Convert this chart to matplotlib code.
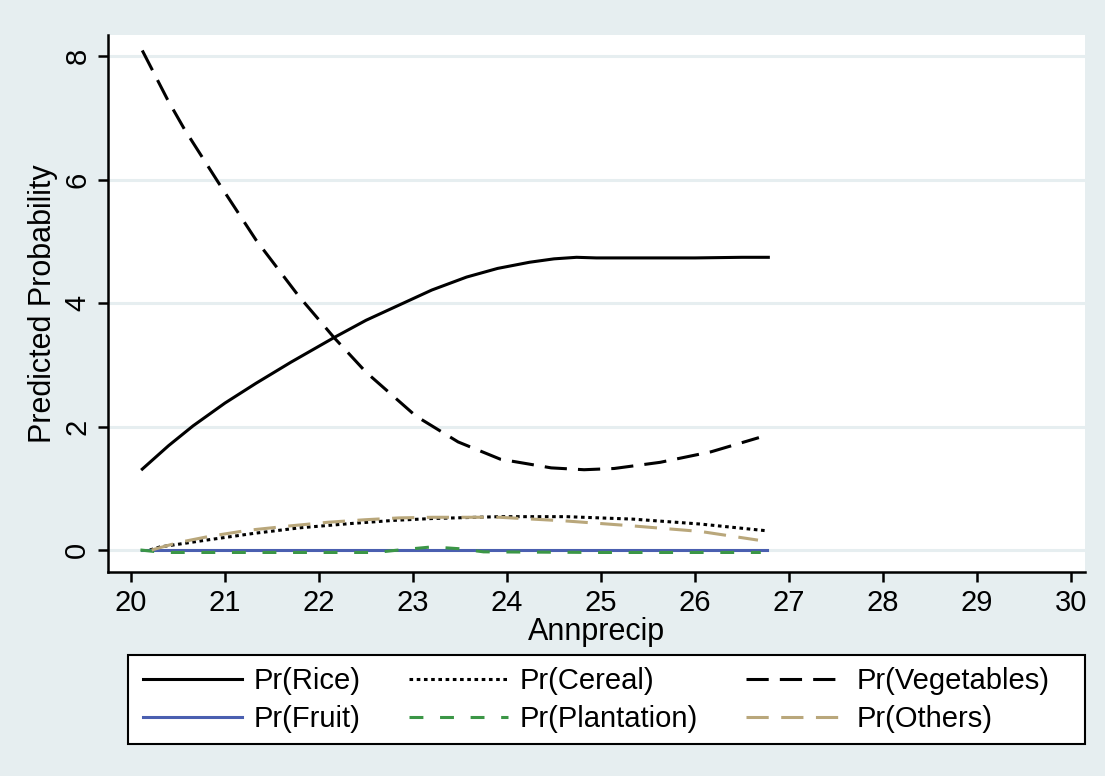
import matplotlib
matplotlib.use("Agg")
import matplotlib.pyplot as plt
from matplotlib.patches import Rectangle

# ---- data ----
x_rice = [20.12, 20.4, 20.66, 21.0, 21.33, 21.7, 22.16, 22.5, 22.9, 23.2, 23.57, 23.9, 24.24, 24.5, 24.74, 24.95, 25.5, 26.0, 26.5, 26.78]
y_rice = [1.31, 1.69, 2.01, 2.38, 2.70, 3.04, 3.44, 3.72, 4.00, 4.21, 4.42, 4.56, 4.66, 4.715, 4.74, 4.73, 4.73, 4.73, 4.74, 4.74]

x_veg = [20.12, 20.39, 20.57, 20.93, 21.33, 21.78, 22.16, 22.5, 23.03, 23.48, 23.93, 24.24, 24.47, 24.82, 25.14, 25.63, 26.17, 26.68]
y_veg = [8.09, 7.29, 6.81, 5.95, 5.02, 4.12, 3.44, 2.88, 2.17, 1.75, 1.47, 1.39, 1.33, 1.30, 1.32, 1.42, 1.59, 1.82]

x_cereal = [20.2, 20.31, 20.8, 21.31, 21.8, 22.35, 22.8, 23.21, 23.92, 24.63, 25.34, 26.06, 26.77]
y_cereal = [0.00, 0.05, 0.16, 0.27, 0.36, 0.43, 0.48, 0.51, 0.54, 0.54, 0.50, 0.42, 0.31]

x_fruit = [20.12, 26.77]
y_fruit = [0.0, 0.0]

x_plant = [20.1, 20.35, 21.5, 22.6, 22.85, 23.2, 23.5, 23.75, 25.0, 26.7]
y_plant = [0.00, -0.04, -0.04, -0.04, 0.00, 0.05, 0.02, -0.03, -0.04, -0.04]

x_others = [20.22, 20.5, 20.83, 21.25, 21.69, 22.1, 22.49, 22.85, 23.21, 23.92, 24.63, 25.34, 26.06, 26.67]
y_others = [0.00, 0.12, 0.22, 0.32, 0.39, 0.45, 0.49, 0.52, 0.53, 0.53, 0.47, 0.39, 0.30, 0.16]

x_ticks = list(range(20, 31))
y_ticks = [0, 2, 4, 6, 8]

# ---- style ----
BG = "#e6eef0"
plt.rcParams["font.family"] = ["Liberation Sans", "DejaVu Sans"]
plt.rcParams["lines.scale_dashes"] = False
FS = 21

W, H = 1105, 776
fig = plt.figure(figsize=(W/100, H/100), dpi=100, facecolor=BG)
ax = fig.add_axes([108/W, 1 - 572/H, (1085-108)/W, (572-35)/H])
ax.set_facecolor("white")

lw = 2.2
l_rice, = ax.plot(x_rice, y_rice, color="black", lw=lw)
l_cer, = ax.plot(x_cereal, y_cereal, color="black", lw=lw, dashes=(2.6, 2.6))
l_veg, = ax.plot(x_veg, y_veg, color="black", lw=lw, dashes=(16, 8))
l_fruit, = ax.plot(x_fruit, y_fruit, color="#4a5fb0", lw=lw)
l_plant, = ax.plot(x_plant, y_plant, color="#3b9646", lw=lw, dashes=(10, 12))
l_oth, = ax.plot(x_others, y_others, color="#b9a77b", lw=lw, dashes=(16, 9))

ax.set_xlim(20 - 23/94, 30 + 14/94)
ax.set_ylim(-22/61.75, (550-35)/61.75)
ax.set_xticks(x_ticks)
ax.set_yticks(y_ticks)
ax.set_xticklabels([str(v) for v in x_ticks], fontsize=FS)
ax.set_yticklabels([str(v) for v in y_ticks], fontsize=FS, rotation=90, va="center")
ax.grid(axis="y", color="#e6eef0", lw=2.2)
ax.set_axisbelow(True)
for s in ["top", "right"]:
    ax.spines[s].set_visible(False)
for s in ["left", "bottom"]:
    ax.spines[s].set_linewidth(1.8)
ax.tick_params(axis="both", length=7, width=1.8, pad=5)

ax.set_xlabel("Annprecip", fontsize=FS + 1, labelpad=0)
ax.set_ylabel("Predicted Probability", fontsize=FS + 1, labelpad=4)

# legend box
fig.patches.append(Rectangle((128/W, 1 - 744/H), (1085-128)/W, 89/H,
                             transform=fig.transFigure, facecolor="white",
                             edgecolor="black", lw=1.5, zorder=0))
handles = [l_rice, l_fruit, l_cer, l_plant, l_veg, l_oth]
hl = ["Pr(Rice)", "Pr(Fruit)", "Pr(Cereal)", "Pr(Plantation)", "Pr(Vegetables)", "Pr(Others)"]
leg = fig.legend(handles, hl, loc="upper left", ncol=3,
                 bbox_to_anchor=(143/W, 1 - 667/H),
                 fontsize=FS, frameon=False, handlelength=3.4, handletextpad=0.4,
                 borderaxespad=0, borderpad=0, labelspacing=0.34, columnspacing=1.65)

fig.savefig("out.png", dpi=100, facecolor=BG)
